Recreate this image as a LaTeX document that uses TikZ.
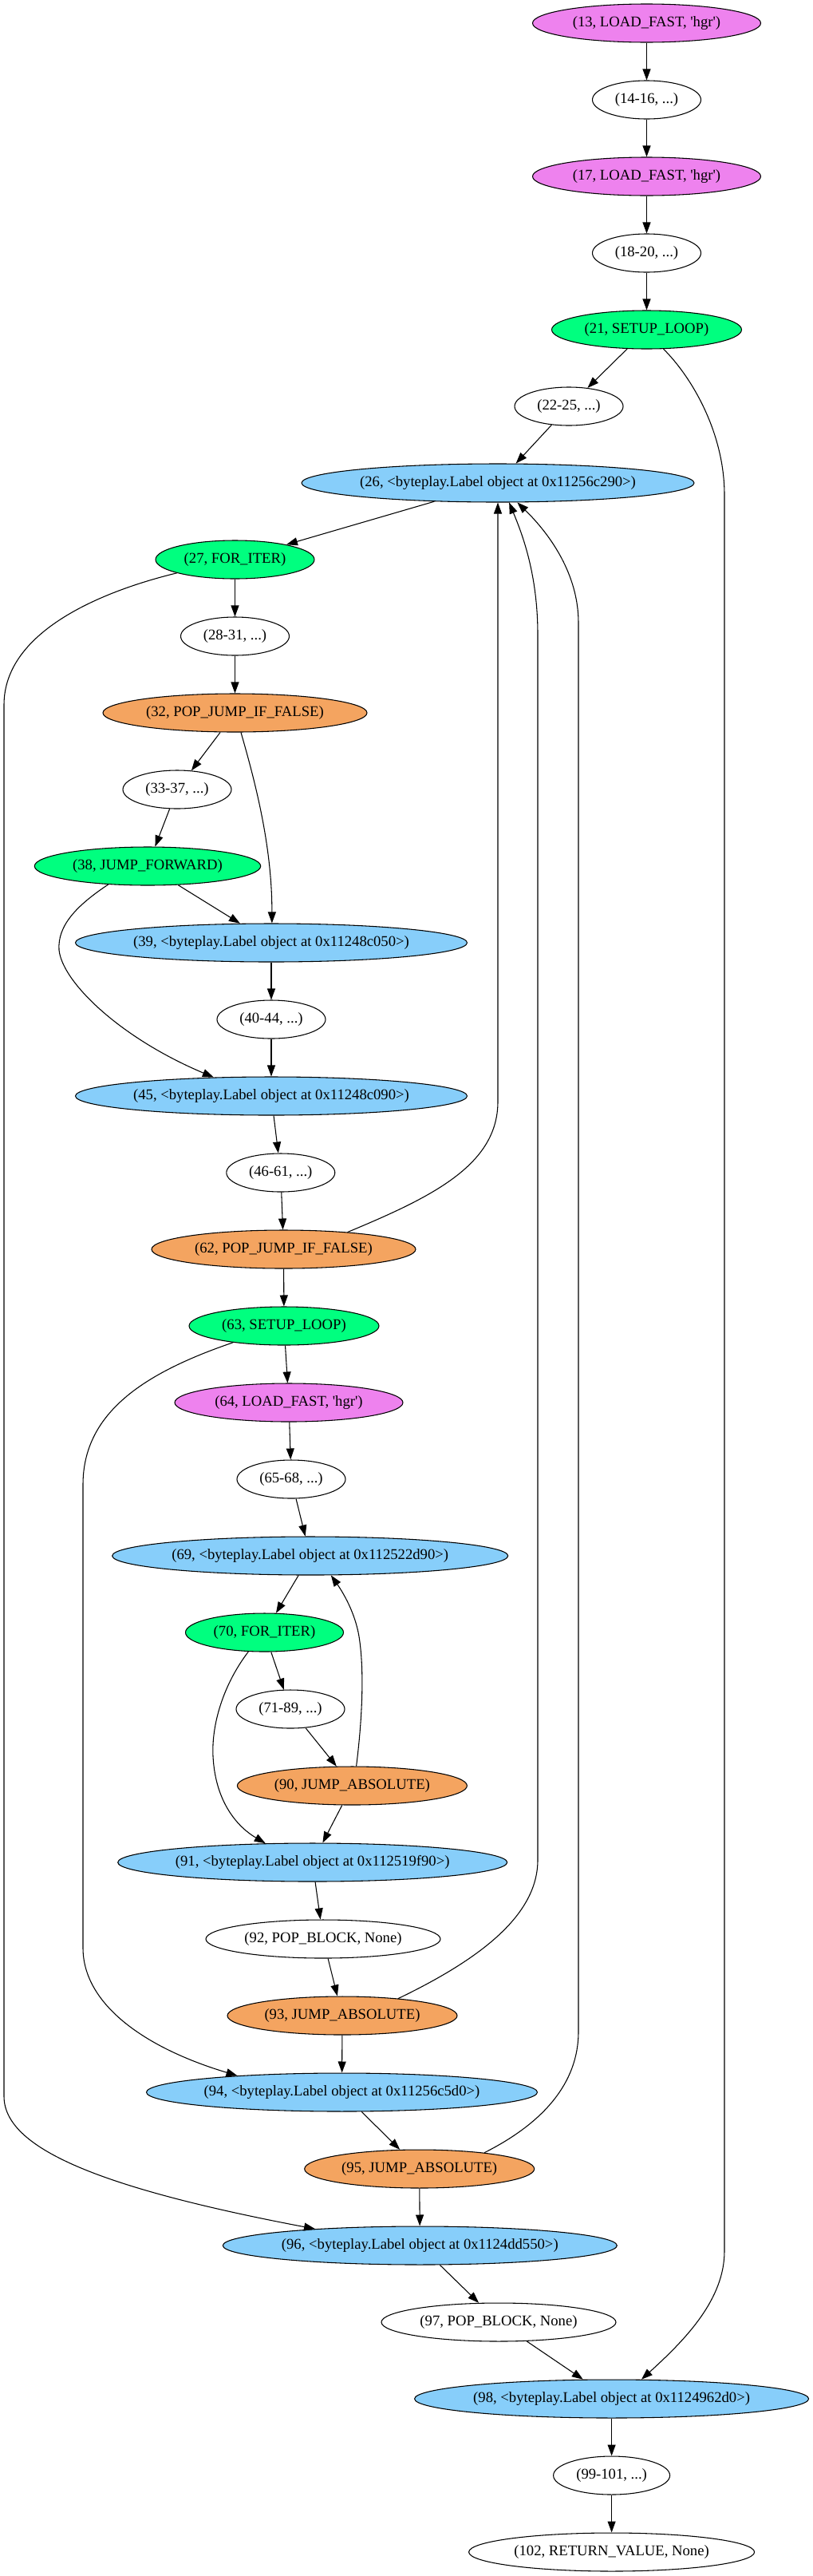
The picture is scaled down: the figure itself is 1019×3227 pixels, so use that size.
\documentclass[tikz,border=0pt]{standalone}
\usepackage{fontspec}
\setmainfont{Liberation Serif}
\usetikzlibrary{shapes.geometric,arrows.meta}
\definecolor{cviolet}{HTML}{EE82EE}
\definecolor{cgreen}{HTML}{00FF7F}
\definecolor{cblue}{HTML}{87CEFA}
\definecolor{corange}{HTML}{F4A460}
\newcommand\tx[1]{\makebox[0pt]{#1}}
\newcommand\q{\textquotesingle}
\begin{document}
\begin{tikzpicture}[x=0.75pt,y=-0.75pt,
  gnode/.style={ellipse,draw,line width=0.8pt,inner sep=0pt,minimum height=36pt,font=\fontsize{14pt}{16pt}\selectfont},
  rx/.style={minimum width=#1*1.5pt},
  vio/.style={gnode,fill=cviolet},
  grn/.style={gnode,fill=cgreen},
  blu/.style={gnode,fill=cblue},
  org/.style={gnode,fill=corange},
  wht/.style={gnode,fill=white},
  edg/.style={draw,line width=0.8pt,-{Triangle[length=10.5pt,width=7.5pt]}}]
\fill[white] (0,0) rectangle (1019,3227);
\useasboundingbox (0,0) rectangle (1019,3227);

\node[vio,rx=143] (n13) at (810.5,29) {\tx{(13, LOAD\_FAST, \q hgr\q)}};
\node[wht,rx=68] (n1416) at (810.5,125) {\tx{(14-16, ...)}};
\node[vio,rx=143] (n17) at (810.5,221) {\tx{(17, LOAD\_FAST, \q hgr\q)}};
\node[wht,rx=68] (n1820) at (810.5,317) {\tx{(18-20, ...)}};
\node[grn,rx=119] (n21) at (810.5,413) {\tx{(21, SETUP\_LOOP)}};
\node[wht,rx=68] (n2225) at (713,509) {\tx{(22-25, ...)}};
\node[blu,rx=246] (n26) at (624,605) {\tx{(26, <byteplay.Label object at 0x11256c290>)}};
\node[grn,rx=99.5] (n27) at (294.5,701) {\tx{(27, FOR\_ITER)}};
\node[wht,rx=68] (n2831) at (294.5,797) {\tx{(28-31, ...)}};
\node[org,rx=165.5] (n32) at (294.5,893) {\tx{(32, POP\_JUMP\_IF\_FALSE)}};
\node[wht,rx=68] (n3337) at (222,989) {\tx{(33-37, ...)}};
\node[grn,rx=141.7] (n38) at (185,1085) {\tx{(38, JUMP\_FORWARD)}};
\node[blu,rx=245.5] (n39) at (340,1181) {\tx{(39, <byteplay.Label object at 0x11248c050>)}};
\node[wht,rx=68] (n4044) at (340,1277) {\tx{(40-44, ...)}};
\node[blu,rx=245.5] (n45) at (340,1373) {\tx{(45, <byteplay.Label object at 0x11248c090>)}};
\node[wht,rx=68] (n4661) at (351.8,1469) {\tx{(46-61, ...)}};
\node[org,rx=165.5] (n62) at (355.5,1565) {\tx{(62, POP\_JUMP\_IF\_FALSE)}};
\node[grn,rx=119] (n63) at (356,1661) {\tx{(63, SETUP\_LOOP)}};
\node[vio,rx=143] (n64) at (362,1757) {\tx{(64, LOAD\_FAST, \q hgr\q)}};
\node[wht,rx=68] (n6568) at (365,1853) {\tx{(65-68, ...)}};
\node[blu,rx=248] (n69) at (388.7,1949) {\tx{(69, <byteplay.Label object at 0x112522d90>)}};
\node[grn,rx=99] (n70) at (331.5,2045) {\tx{(70, FOR\_ITER)}};
\node[wht,rx=68] (n7189) at (364,2141) {\tx{(71-89, ...)}};
\node[org,rx=144] (n90) at (441.4,2237) {\tx{(90, JUMP\_ABSOLUTE)}};
\node[blu,rx=244] (n91) at (391.7,2333) {\tx{(91, <byteplay.Label object at 0x112519f90>)}};
\node[wht,rx=147] (n92) at (405,2429) {\tx{(92, POP\_BLOCK, None)}};
\node[org,rx=144] (n93) at (429,2525) {\tx{(93, JUMP\_ABSOLUTE)}};
\node[blu,rx=245] (n94) at (428.5,2621) {\tx{(94, <byteplay.Label object at 0x11256c5d0>)}};
\node[org,rx=144] (n95) at (525.7,2717) {\tx{(95, JUMP\_ABSOLUTE)}};
\node[blu,rx=247] (n96) at (526.3,2813) {\tx{(96, <byteplay.Label object at 0x1124dd550>)}};
\node[wht,rx=147] (n97) at (625,2909) {\tx{(97, POP\_BLOCK, None)}};
\node[blu,rx=247] (n98) at (766.6,3005) {\tx{(98, <byteplay.Label object at 0x1124962d0>)}};
\node[wht,rx=73] (n99101) at (766.6,3101) {\tx{(99-101, ...)}};
\node[wht,rx=179] (n102) at (766.6,3197) {\tx{(102, RETURN\_VALUE, None)}};

% straight edges
\draw[edg] (n13) -- (n1416);
\draw[edg] (n1416) -- (n17);
\draw[edg] (n17) -- (n1820);
\draw[edg] (n1820) -- (n21);
\draw[edg] (n21) -- (n2225);
\draw[edg] (n2225) -- (n26);
\draw[edg] (n26) -- (n27);
\draw[edg] (n27) -- (n2831);
\draw[edg] (n2831) -- (n32);
\draw[edg] (n32) -- (n3337);
\draw[edg] (n3337) -- (n38);
\draw[edg] (n38) -- (n39);
\draw[edg] (n39) -- (n4044);
\draw[edg] (n4044) -- (n45);
\draw[edg] (n45) -- (n4661);
\draw[edg] (n4661) -- (n62);
\draw[edg] (n62) -- (n63);
\draw[edg] (n63) -- (n64);
\draw[edg] (n64) -- (n6568);
\draw[edg] (n6568) -- (n69);
\draw[edg] (n69) -- (n70);
\draw[edg] (n70) -- (n7189);
\draw[edg] (n7189) -- (n90);
\draw[edg] (n90) -- (n91);
\draw[edg] (n91) -- (n92);
\draw[edg] (n92) -- (n93);
\draw[edg] (n93) -- (n94);
\draw[edg] (n94) -- (n95);
\draw[edg] (n95) -- (n96);
\draw[edg] (n96) -- (n97);
\draw[edg] (n97) -- (n98);
\draw[edg] (n98) -- (n99101);
\draw[edg] (n99101) -- (n102);

% curved edges
\draw[edg] (n21.-49) .. controls (865,470) and (908,540) .. (908,620) -- (908,2820) .. controls (908,2880) and (860,2930) .. (n98.33);
\draw[edg] (n27.193) .. controls (130,740) and (5,790) .. (5,883) -- (5,2626) .. controls (5,2690) and (120,2740) .. (n96.171);
\draw[edg] (n32.-73) .. controls (320,980) and (341,1060) .. (n39.88);
\draw[edg] (n38.205) .. controls (95,1135) and (72,1160) .. (74,1190) .. controls (78,1230) and (150,1300) .. (n45.162);
\draw[edg] (n62.15) .. controls (540,1500) and (624,1460) .. (624,1380) -- (n26.south);
\draw[edg] (n63.198) .. controls (180,1720) and (104,1770) .. (104,1860) -- (104,2440) .. controls (104,2510) and (180,2565) .. (n94.171);
\draw[edg] (n70.230) .. controls (280,2110) and (265,2160) .. (267,2200) .. controls (270,2260) and (300,2290) .. (n91.158);
\draw[edg] (n90.78) .. controls (452,2170) and (458,2100) .. (450,2050) .. controls (445,2020) and (430,1995) .. (n69.-43);
\draw[edg] (n93.17) .. controls (600,2455) and (674,2400) .. (674,2330) -- (674,795) .. controls (674,720) and (655,670) .. (n26.-60);
\draw[edg] (n95.14) .. controls (680,2660) and (725,2610) .. (725,2545) -- (725,780) .. controls (725,720) and (690,670) .. (n26.-45);
\end{tikzpicture}
\end{document}
